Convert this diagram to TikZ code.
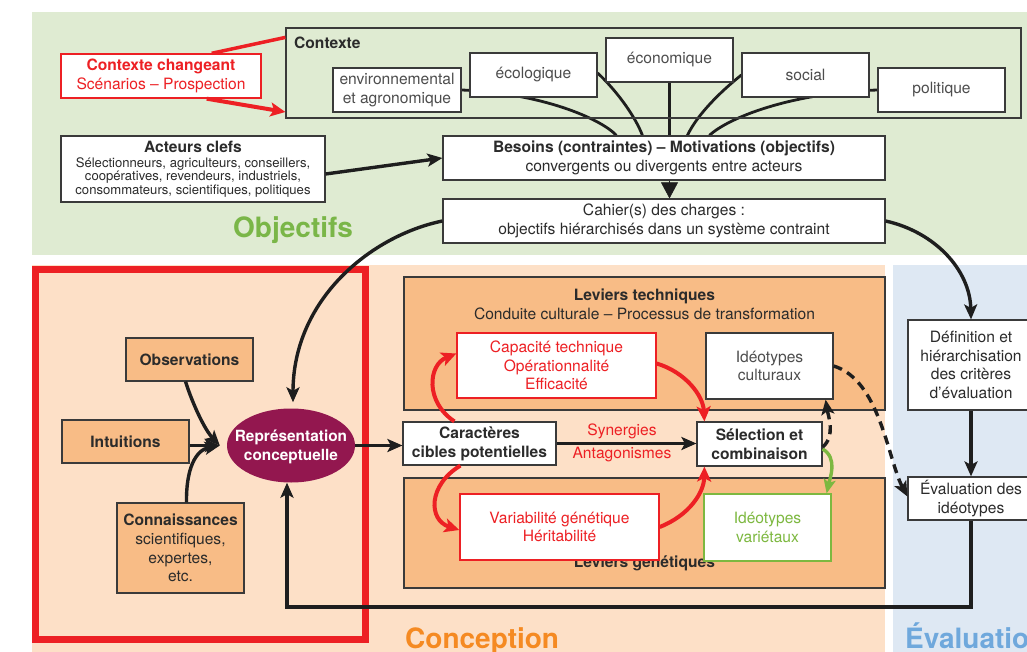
\documentclass[tikz,border=0pt]{standalone}
\usepackage{fontspec}
\setmainfont{TeX Gyre Heros}
\usetikzlibrary{arrows.meta,calc,shapes.geometric}
\definecolor{bggreen}{HTML}{DFEBD2}
\definecolor{bgpeach}{HTML}{FDE0C7}
\definecolor{bgblue}{HTML}{DEE8F3}
\definecolor{oboxc}{HTML}{F8BC86}
\definecolor{redc}{HTML}{ED2024}
\definecolor{magc}{HTML}{93174F}
\definecolor{greent}{HTML}{7AB648}
\definecolor{greenc}{HTML}{7DB840}
\definecolor{oranget}{HTML}{F58A22}
\definecolor{bluet}{HTML}{6FA8DC}
\definecolor{bordc}{HTML}{3A3A3A}
\definecolor{txtc}{HTML}{2B2B2B}
\definecolor{greytxt}{HTML}{4D4D4D}
\definecolor{linec}{HTML}{1E1E1E}
\pgfdeclarelayer{back}
\pgfdeclarelayer{mid}
\pgfsetlayers{back,mid,main}
\tikzset{
  sz/.style 2 args={minimum width=#1pt,minimum height=#2pt},
  basebox/.style={draw=bordc, line width=1.2pt, inner sep=0pt, align=center,
    font=\fontsize{15.6}{18.7}\selectfont, text=txtc},
  wbox/.style={basebox, fill=white},
  obx/.style={basebox, fill=oboxc},
  redbox/.style={wbox, draw=redc, line width=1.4pt, text=redc},
  conn/.style={draw=linec, line width=3.4pt, -{Stealth[length=15pt,width=13pt,inset=3.5pt]}},
  plainline/.style={draw=linec, line width=2.8pt},
  redarr/.style={draw=redc, line width=4pt, -{Stealth[length=15pt,width=14pt,inset=3.5pt]}},
  greenarr/.style={draw=greenc, line width=3.4pt, -{Stealth[length=14pt,width=12pt,inset=3pt]}},
  dashpat/.style={dash pattern=on 9pt off 6pt},
  bigtitle/.style={anchor=base west, inner sep=0pt, font=\fontsize{28}{28}\selectfont\bfseries},
  lbl/.style={inner sep=0pt, font=\fontsize{15.6}{18.7}\selectfont, text=redc}
}
\begin{document}
\begin{tikzpicture}[x=1pt,y=-1pt]
\useasboundingbox (0,0) rectangle (1027,652);
\clip (0,0) rectangle (1027,652);
% ---------- backgrounds
\begin{pgfonlayer}{back}
\fill[white] (0,0) rectangle (1027,652);
\fill[bggreen] (32,12) rectangle (1027,255);
\fill[bgpeach] (32,265) rectangle (885,652);
\fill[bgblue] (893,265) rectangle (1027,652);
\draw[redc, line width=7pt] (35.5,269) rectangle (365.5,639);
\end{pgfonlayer}
% ---------- titles
\node[bigtitle, text=greent] (tobj) at (233,237) {Objectifs};
\node[bigtitle, text=oranget] (tcon) at (405,648) {Conception};
\node[bigtitle, text=bluet] (teva) at (905,648) {Évaluation};
% ---------- Objectifs part
\node[basebox, sz={735}{90}] (ctx) at (653.5,73) {};
\node[anchor=west, inner sep=0pt, font=\fontsize{15.6}{18.7}\selectfont\bfseries, text=txtc] (ctxt) at (294,43) {Contexte};
\node[wbox, sz={128}{44}, text=greytxt] (env) at (397,90) {environnemental\\et agronomique};
\node[wbox, sz={127}{44}, text=greytxt] (eco) at (533.5,75) {écologique};
\node[wbox, sz={127}{44}, text=greytxt] (econ) at (669.5,60) {économique};
\node[wbox, sz={127}{44}, text=greytxt] (soc) at (805.5,75) {social};
\node[wbox, sz={127}{44}, text=greytxt] (pol) at (941.5,90) {politique};
\node[redbox, sz={200}{44}] (ctxchg) at (161,76) {\bfseries Contexte changeant\\Scénarios – Prospection};
\node[wbox, sz={264}{66}, font=\fontsize{13.1}{13.5}\selectfont] (act) at (193,169)
  {{\fontsize{15.6}{15}\selectfont\bfseries Acteurs clefs}\\[1.4pt]Sélectionneurs, agriculteurs, conseillers,\\coopératives, revendeurs, industriels,\\consommateurs, scientifiques, politiques};
\node[wbox, sz={442}{44}] (bes) at (664,158) {\bfseries Besoins (contraintes) – Motivations (objectifs)\\convergents ou divergents entre acteurs};
\node[wbox, sz={442}{44}] (cah) at (664,221) {Cahier(s) des charges :\\objectifs hiérarchisés dans un système contraint};
\begin{pgfonlayer}{mid}
\draw[plainline] (env.east) .. controls (540,93) and (600,118) .. ($(bes.north west)+(174,0)$);
\draw[plainline] ($(eco.east)+(0,-2)$) .. controls (618,92) and (636,118) .. ($(bes.north west)+(200,0)$);
\draw[plainline] (econ.south) -- (econ.south |- bes.north);
\draw[plainline] (soc.west) .. controls (720,92) and (697,115) .. ($(bes.north west)+(245,0)$);
\draw[plainline] (pol.west) .. controls (790,93) and (728,118) .. ($(bes.north west)+(267,0)$);
\end{pgfonlayer}
\draw[redc, line width=3.5pt] ($(ctxchg.north east)+(-50,0)$) -- ($(ctx.north west)+(0,10)$);
\draw[redarr] ($(ctxchg.south east)+(-55,0)$) -- ($(ctx.west)+(0,39)$);
\draw[conn] ($(act.east)+(0,5)$) -- (bes.west);
\draw[line width=0.5pt, draw=linec, -{Triangle[length=16pt,width=17pt]}] (econ.south |- bes.south) -- (econ.south |- cah.north);
% ---------- Conception part
\node[obx, sz={127}{43}] (obs) at (189.5,359.5) {\bfseries Observations};
\node[obx, sz={127}{43}] (intu) at (125.5,441.5) {\bfseries Intuitions};
\node[obx, sz={127}{90}] (conn) at (180.5,548) {{\bfseries Connaissances}\\scientifiques,\\expertes,\\etc.};
\node[ellipse, fill=magc, draw=none, sz={128}{74}, inner sep=0pt] (rep) at (291,445.5) {};
\node[inner sep=0pt, align=center, text=white, font=\fontsize{15.4}{18.7}\selectfont\bfseries] (rept) at (291,447) {Représentation\\conceptuelle};
\coordinate (conv) at ($(rep.west)+(-7,0)$);
\draw[conn] ($(obs.south)+(-4,0)$) .. controls (193,405) and (205,430) .. (conv);
\draw[conn] (intu.east |- conv) -- (conv);
\draw[conn] ($(conn.north)+(6,0)$) .. controls (186,470) and (195,450) .. (conv);

\node[obx, sz={481}{133}] (levt) at (644.5,343.5) {};
\node[inner sep=0pt, align=center, font=\fontsize{15.6}{18.7}\selectfont, text=txtc] (levtt) at (644.5,304) {\bfseries Leviers techniques\\Conduite culturale – Processus de transformation};
\node[redbox, sz={199}{65}] (cap) at (556.5,365.5) {Capacité technique\\Opérationnalité\\Efficacité};
\node[wbox, sz={127}{66}, text=greytxt] (idc) at (769.5,366) {Idéotypes\\culturaux};

\node[obx, sz={481}{110}] (levg) at (644.5,533) {};
\node[anchor=base, inner sep=0pt, font=\fontsize{15.6}{18.7}\selectfont\bfseries, text=txtc] (levgt) at (644.5,567) {Leviers génétiques};
\node[redbox, sz={199}{66}] (var) at (559.5,527) {Variabilité génétique\\Héritabilité};
\node[wbox, sz={127}{67}, draw=greenc, text=greenc] (idv) at (767.5,527.5) {Idéotypes\\variétaux};

\node[wbox, sz={153}{43}] (car) at (479.5,443.5) {\bfseries Caractères\\\bfseries cibles potentielles};
\node[wbox, sz={125}{44}] (sel) at (759.5,444) {\bfseries Sélection et\\\bfseries combinaison};
\node[lbl] (syn) at (622,431) {Synergies};
\node[lbl] (ant) at (622,455) {Antagonismes};

\draw[conn] (rep.east) -- (rep.east -| car.west);
\draw[conn] (car.east) -- (car.east -| sel.west);
\draw[redarr] ($(car.north west)+(52,0)$) .. controls (425,402) and (428,365) .. ($(cap.west)+(0,-12)$);
\draw[redarr] ($(cap.east)+(0,-2)$) .. controls (685,372) and (703,395) .. ($(sel.north west)+(8,0)$);
\draw[redarr] ($(car.south west)+(58,0)$) .. controls (428,485) and (428,520) .. ($(var.west)+(0,3)$);
\draw[redarr] (var.east) .. controls (690,515) and (704,492) .. ($(sel.south west)+(8,0)$);
\draw[greenarr] ($(sel.east)+(0,5)$) .. controls (838,458) and (830,478) .. ($(idv.north east)+(-5,0)$);
\draw[conn, dashpat] ($(sel.east)+(0,3)$) .. controls (836,436) and (828,415) .. ($(idc.south east)+(-8,0)$);

% ---------- Evaluation part
\node[wbox, sz={126}{90}] (def) at (971,365) {Définition et\\hiérarchisation\\des critères\\d’évaluation};
\node[wbox, sz={126}{43}] (eva) at (971,498.5) {Évaluation des\\idéotypes};
\draw[conn] (def.south) -- (eva.north);
\draw[conn, dashpat] (idc.east) .. controls (880,380) and (888,460) .. ($(eva.west)+(0,-2)$);
\coordinate (loopy) at (0,607);
\draw[conn] (eva.south) -- (eva.south |- loopy) -| ($(rep.south)+(-4,0)$);
\draw[conn] (cah.west) .. controls (370,236) and (293,300) .. ($(rep.north)+(2,-6)$);
\draw[conn] (cah.east) .. controls (935,232) and (970,270) .. (def.north);
\end{tikzpicture}
\end{document}
